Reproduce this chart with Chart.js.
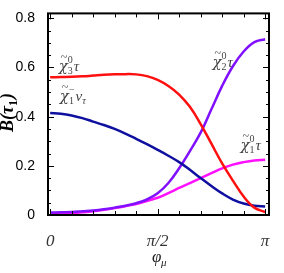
<!DOCTYPE html>
<html>
<head>
<meta charset="UTF-8">
<script src="https://cdn.jsdelivr.net/npm/chart.js@4.4.1/dist/chart.umd.min.js"></script>
<style>
  body { margin: 0; background: white; }
  #wrap { width: 284px; height: 273px; }
</style>
</head>
<body>
<div id="wrap"><canvas id="myChart" width="284" height="273"></canvas></div>
<script>
// phi_mu in units of pi
var phi = [0, 0.05, 0.1, 0.15, 0.2, 0.25, 0.3, 0.35, 0.4, 0.45, 0.5, 0.55, 0.6, 0.65, 0.7, 0.75, 0.8, 0.85, 0.9, 0.95, 1.0];
var chi3tau = [0.56, 0.561, 0.562, 0.564, 0.567, 0.57, 0.572, 0.573, 0.572, 0.565, 0.55, 0.525, 0.49, 0.44, 0.37, 0.29, 0.21, 0.14, 0.075, 0.03, 0.012];
var chi1nu  = [0.415, 0.412, 0.405, 0.394, 0.38, 0.366, 0.35, 0.331, 0.31, 0.288, 0.265, 0.241, 0.215, 0.184, 0.15, 0.118, 0.088, 0.063, 0.047, 0.038, 0.035];
var chi2tau = [0.01, 0.011, 0.012, 0.015, 0.018, 0.023, 0.03, 0.038, 0.048, 0.063, 0.088, 0.13, 0.19, 0.26, 0.335, 0.43, 0.525, 0.605, 0.665, 0.703, 0.715];
var chi1tau = [0.005, 0.006, 0.008, 0.011, 0.015, 0.021, 0.028, 0.036, 0.045, 0.057, 0.07, 0.089, 0.11, 0.13, 0.15, 0.17, 0.19, 0.205, 0.215, 0.222, 0.225];
var xTicks = [0, 0.5, 1];
var xTickLabels = ['0', 'π/2', 'π'];
var yTicks = [0, 0.2, 0.4, 0.6, 0.8];

function pts(ys) {
    return phi.map(function (x, i) { return { x: x, y: ys[i] }; });
}

// curve labels: [x, y, subscript, superscript, tail, tail subscript]
var curveLabels = [
    [0.04, 0.585, '3', '0', 'τ', ''],
    [0.045, 0.465, '1', '−', 'ν', 'τ'],
    [0.755, 0.6, '2', '0', 'τ', ''],
    [0.885, 0.265, '1', '0', 'τ', '']
];

var extras = {
    id: 'extras',
    afterDraw: function (chart) {
        var ctx = chart.ctx;
        var a = chart.chartArea;
        var xs = chart.scales.x, ys = chart.scales.y;
        ctx.save();
        ctx.strokeStyle = 'black';
        ctx.lineWidth = 2;
        ctx.strokeRect(a.left, a.top, a.right - a.left, a.bottom - a.top);
        ctx.lineWidth = 1;
        // x ticks, minor every pi/10
        for (var i = 0; i <= 10; i++) {
            var px = Math.round(xs.getPixelForValue(i / 10)) + 0.5;
            var len = (i % 5 === 0) ? 6 : 4;
            ctx.beginPath();
            ctx.moveTo(px, a.bottom); ctx.lineTo(px, a.bottom - len);
            ctx.moveTo(px, a.top); ctx.lineTo(px, a.top + len);
            ctx.stroke();
        }
        // y ticks, minor every 0.05
        for (var j = 0; j <= 16; j++) {
            var py = Math.round(ys.getPixelForValue(j * 0.05)) + 0.5;
            var l2 = (j % 4 === 0) ? 6 : 3;
            ctx.beginPath();
            ctx.moveTo(a.left, py); ctx.lineTo(a.left + l2, py);
            ctx.moveTo(a.right, py); ctx.lineTo(a.right - l2, py);
            ctx.stroke();
        }
        // curve labels
        ctx.fillStyle = '#444';
        ctx.textBaseline = 'alphabetic';
        curveLabels.forEach(function (c) {
            var x = xs.getPixelForValue(c[0]);
            var y = ys.getPixelForValue(c[1]);
            ctx.font = 'italic 15px "DejaVu Serif"';
            ctx.fillText('χ', x, y);
            var w = ctx.measureText('χ').width;
            ctx.font = '12px "Liberation Serif"';
            ctx.fillText('~', x + 2, y - 10);
            ctx.font = '10px "Liberation Serif"';
            ctx.fillText(c[2], x + w, y + 3);
            ctx.fillText(c[3], x + w, y - 8);
            var sw = Math.max(ctx.measureText(c[2]).width, ctx.measureText(c[3]).width);
            ctx.font = 'italic 15px "Liberation Serif"';
            ctx.fillText(c[4], x + w + sw + 1, y);
            var tw = ctx.measureText(c[4]).width;
            if (c[5]) {
                ctx.font = 'italic 10px "Liberation Serif"';
                ctx.fillText(c[5], x + w + sw + 1 + tw, y + 3);
            }
        });
        // axis titles
        ctx.fillStyle = '#222';
        ctx.font = 'italic 17px "Liberation Serif"';
        ctx.textAlign = 'left';
        ctx.fillText('φ', 152, 262);
        ctx.font = 'italic 11px "Liberation Serif"';
        ctx.fillText('μ', 161, 266);
        ctx.save();
        ctx.translate(13, 113);
        ctx.rotate(-Math.PI / 2);
        ctx.fillStyle = 'black';
        var big = 'bold italic 18px "Liberation Serif"', small = 'bold 12px "Liberation Serif"';
        ctx.font = big;
        var bw = ctx.measureText('B(τ').width, cw = ctx.measureText(')').width;
        ctx.font = small;
        var ow = ctx.measureText('1').width;
        var x0 = -(bw + ow + cw) / 2;
        ctx.font = big;
        ctx.fillText('B(τ', x0, 0);
        ctx.font = small;
        ctx.fillText('1', x0 + bw, 4);
        ctx.font = big;
        ctx.fillText(')', x0 + bw + ow + 1, 0);
        ctx.restore();
        ctx.restore();
    }
};

function ds(data, color) {
    return { data: pts(data), borderColor: color, borderWidth: 2.5, pointRadius: 0, tension: 0.4, fill: false };
}

new Chart(document.getElementById('myChart'), {
    type: 'line',
    data: {
        datasets: [
            ds(chi3tau, '#ff1010'),
            ds(chi1nu, '#1010a0'),
            ds(chi2tau, '#8010ff'),
            ds(chi1tau, '#ff10ff')
        ]
    },
    options: {
        responsive: false,
        animation: false,
        layout: { padding: { top: 12, right: 15, left: 0, bottom: 0 } },
        plugins: { legend: { display: false }, tooltip: { enabled: false } },
        scales: {
            x: {
                type: 'linear', min: -0.01, max: 1.018,
                grid: { display: false }, border: { display: false },
                afterBuildTicks: function (s) { s.ticks = xTicks.map(function (v) { return { value: v }; }); },
                afterFit: function (s) { s.height = 58; },
                ticks: {
                    padding: 8, maxRotation: 0, color: '#333',
                    font: { family: 'Liberation Serif', size: 17, style: 'italic' },
                    callback: function (v) { return xTickLabels[xTicks.indexOf(v)]; }
                }
            },
            y: {
                min: 0, max: 0.82,
                grid: { display: false }, border: { display: false },
                afterBuildTicks: function (s) { s.ticks = yTicks.map(function (v) { return { value: v }; }); },
                afterFit: function (s) { s.width = 48; },
                ticks: {
                    padding: 5, color: 'black',
                    font: { family: 'Liberation Sans Narrow, Liberation Sans', size: 14 },
                    callback: function (v) { return v === 0 ? '0' : v.toFixed(1); }
                }
            }
        }
    },
    plugins: [extras]
});
</script>
</body>
</html>
